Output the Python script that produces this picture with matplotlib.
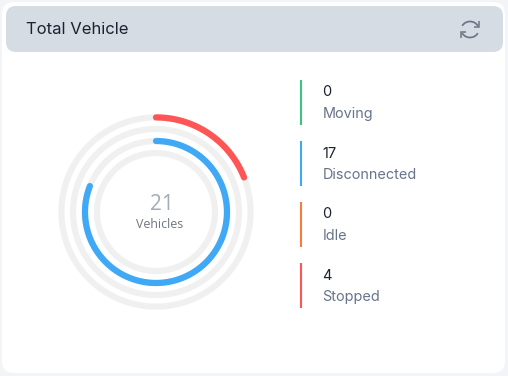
import numpy as np
import matplotlib
matplotlib.use("Agg")
import matplotlib.pyplot as plt
from matplotlib.patches import FancyBboxPatch, Arc, Polygon

title = "Total Vehicle"
categories = ["Moving", "Disconnected", "Idle", "Stopped"]
values = [0, 17, 0, 4]
colors = ["#3cc47c", "#3fa9f5", "#f47c3c", "#ff5555"]
total_label = "Vehicles"
W, H = 508, 376
fig = plt.figure(figsize=(W/100, H/100), dpi=100, facecolor="#f3f4f7")

bg = fig.add_axes([0, 0, 1, 1])
bg.set_xlim(0, W); bg.set_ylim(H, 0); bg.axis("off")
bg.add_patch(FancyBboxPatch((2+12, 2+12), W-4-24-1, H-4-24-1, boxstyle="round,pad=12,rounding_size=12",
                            fc="white", ec="none"))
bg.add_patch(FancyBboxPatch((6+10, 6+10), 497-20, 46-20, boxstyle="round,pad=10,rounding_size=10",
                            fc="#d5dce3", ec="none"))
bg.text(26, 29, title, fontsize=12, family="Inter", color="#1c2230", va="center", ha="left")

# refresh icon
ic = "#6b7785"
bg.add_patch(Arc((470, 29.5), 17.5, 16, theta1=205, theta2=335, ec=ic, lw=1.25))
bg.add_patch(Arc((470, 29.5), 17.5, 16, theta1=25, theta2=155, ec=ic, lw=1.25))
bg.add_patch(Polygon([[479, 21], [479, 26.5], [474, 26.5]], closed=False, fc="none", ec=ic, lw=1.1))
bg.add_patch(Polygon([[461, 37.5], [461, 32], [466, 32]], closed=False, fc="none", ec=ic, lw=1.1))

# legend
for i, (c, v, col) in enumerate(zip(categories, values, colors)):
    top = 80 + i*61
    bg.plot([301, 301], [top, top+45], color=col, lw=1.5, solid_capstyle="butt")
    bg.text(322.5, top+12.5, str(v), fontsize=10.5, family="Inter", color="#1c2230", va="center", ha="left")
    bg.text(322.5, top+34, c, fontsize=10.4, family="Inter", color="#67748a", va="center", ha="left")

# radial bars
cx, cy, R = 156, 212, 100
ax = fig.add_axes([(cx-R)/W, 1-(cy+R)/H, 2*R/W, 2*R/H], projection="polar")
ax.patch.set_alpha(0)
ax.set_theta_zero_location("N"); ax.set_theta_direction(-1)
ax.set_ylim(0, R); ax.axis("off")
radii = [59, 71, 83, 94.6]
total = sum(values)
for r, v, col in zip(radii, values, colors):
    th = np.linspace(0, 2*np.pi, 361)
    ax.plot(th, np.full_like(th, r), color="#f0f0f0", lw=4.4, solid_capstyle="butt", zorder=1)
    if v:
        th = np.linspace(0, 2*np.pi*v/total, 200)
        ax.plot(th, np.full_like(th, r), color=col, lw=4.5, solid_capstyle="round", zorder=2)

bg.text(161.5, 204, str(total), fontsize=15, family="Open Sans", color="#a3abb8", va="center", ha="center")
bg.text(159.5, 224.5, total_label, fontsize=8.9, family="Open Sans", color="#6f7580", va="center", ha="center")
fig.savefig("out.png", dpi=100, facecolor=fig.get_facecolor())
